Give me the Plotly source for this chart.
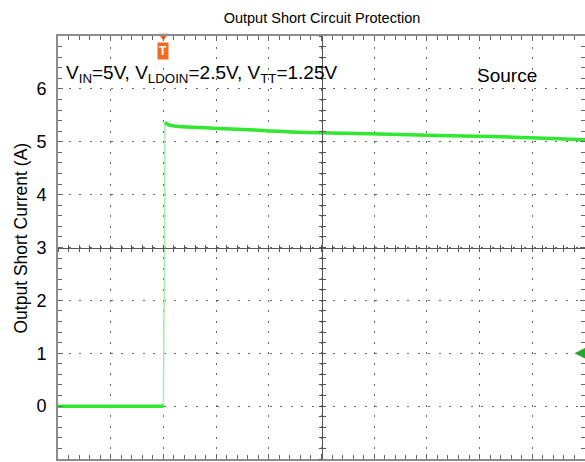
import plotly.graph_objects as go

# time in scope divisions (10 div across the screen), current in A
time_low = [0.0, 0.5, 1.0, 1.5, 2.0]
current_low = [0.0, 0.0, 0.0, 0.0, 0.0]

time_edge = [2.0, 2.0, 2.01, 2.02, 2.03]
current_edge = [0.0, 1.3, 1.7, 2.1, 5.37]

time_high = [2.03, 2.1, 2.3, 2.7, 3.3, 3.95, 4.6, 5.5, 6.3, 7.2, 8.2, 9.1, 10.0]
current_high = [5.37, 5.32, 5.29, 5.27, 5.24, 5.21, 5.18, 5.16, 5.14, 5.12, 5.10, 5.07, 5.04]

trigger_time = 2.0
ref_level = 1.0

y_ticks = [0, 1, 2, 3, 4, 5, 6]
x_grid = [1, 2, 3, 4, 5, 6, 7, 8, 9]

TRACE_GREEN = "#2fe82f"
EDGE_GREEN = "#a6eea6"
GRID = "#666666"
FONT = "Liberation Sans, Arial, sans-serif"

fig = go.Figure()

fig.add_trace(go.Scatter(x=time_edge, y=current_edge, mode="lines",
                         line=dict(color=EDGE_GREEN, width=1.5), showlegend=False))
fig.add_trace(go.Scatter(x=time_low, y=current_low, mode="lines",
                         line=dict(color=TRACE_GREEN, width=3.5), showlegend=False))
fig.add_trace(go.Scatter(x=time_high, y=current_high, mode="lines",
                         line=dict(color=TRACE_GREEN, width=3.5, shape="spline"),
                         showlegend=False))

# trigger marker on the top edge
fig.add_trace(go.Scatter(x=[trigger_time], y=[7], mode="markers", cliponaxis=False,
                         marker=dict(symbol="triangle-down", size=9, color="#f26a21"),
                         showlegend=False))

# dummy traces so the crosshair axes get drawn
fig.add_trace(go.Scatter(x=[None], y=[None], xaxis="x2", yaxis="y2", showlegend=False))
fig.add_trace(go.Scatter(x=[None], y=[None], xaxis="x3", yaxis="y3", showlegend=False))

minor_ticks = dict(dtick=0.2, tick0=0, ticks="inside", ticklen=4, tickcolor=GRID,
                   showgrid=False)


def centre_axis(letter, ticks, line):
    rng = [0, 10] if letter == "x" else [-1, 7]
    return dict(overlaying=letter, anchor="free", position=0.5, range=rng,
                automargin=False, showgrid=False, zeroline=False,
                showticklabels=False, showline=line, linecolor="#555",
                linewidth=1, tickmode="linear", tick0=0, dtick=0.2,
                ticks=ticks, ticklen=3, tickcolor="#555")


fig.update_layout(
    width=585,
    height=462,
    margin=dict(l=58, r=0, t=36, b=3, autoexpand=False),
    paper_bgcolor="white",
    plot_bgcolor="white",
    font=dict(family=FONT, color="black"),
    title=dict(text="Output Short Circuit Protection", x=322 / 585,
               xanchor="center", y=1 - 18 / 462, yanchor="middle", yref="container",
               font=dict(size=14.5, family=FONT, color="black")),
    xaxis=dict(range=[0, 10], tickvals=x_grid, showticklabels=False, automargin=False,
               showgrid=True, gridcolor=GRID, gridwidth=1, griddash="2px,8.54px",
               ticks="inside", ticklen=5, tickcolor=GRID, minor=minor_ticks,
               showline=True, linecolor="#8c8c8c", linewidth=2, mirror="allticks",
               zeroline=False),
    yaxis=dict(range=[-1, 7], tickvals=y_ticks, ticktext=[str(v) for v in y_ticks],
               tickfont=dict(size=18, color="black"), ticklabelstandoff=6,
               automargin=False,
               showgrid=True, gridcolor=GRID, gridwidth=1, griddash="2px,8.58px",
               ticks="inside", ticklen=5, tickcolor=GRID, minor=minor_ticks,
               showline=True, linecolor="#8c8c8c", linewidth=2, mirror="allticks",
               zeroline=False),
    # crosshair through the screen centre, ticks on both sides
    xaxis2=centre_axis("x", "outside", True),
    yaxis2=centre_axis("y", "outside", True),
    xaxis3=centre_axis("x", "inside", False),
    yaxis3=centre_axis("y", "inside", False),
)

fig.add_annotation(
    xref="paper", yref="paper", x=(20 - 58) / 527, y=(459 - 238.5) / 423,
    text="Output Short Current (A)", textangle=-90, showarrow=False,
    xanchor="center", yanchor="middle",
    font=dict(size=17.5, color="black", family=FONT),
)
fig.add_annotation(
    x=0.12, y=6.28, xanchor="left", yanchor="middle", showarrow=False,
    text="V<sub>IN</sub>=5V, V<sub>LDOIN</sub>=2.5V, V<sub>TT</sub>=1.25V",
    font=dict(size=19, color="black", family=FONT),
)
fig.add_annotation(
    x=8.52, y=6.25, xanchor="center", yanchor="middle", showarrow=False,
    text="Source", font=dict(size=19, color="black", family=FONT),
)

# trigger "T" badge
fig.add_annotation(
    x=trigger_time, y=6.72, showarrow=False, text="<b>T</b>",
    font=dict(size=12, color="white", family=FONT),
    bgcolor="#f26a21", borderpad=1,
)

# reference level arrow on the right edge
fig.add_annotation(
    x=9.8, y=ref_level, ax=18, ay=0, text="", showarrow=True,
    arrowhead=2, arrowsize=1.1, arrowwidth=2.5, arrowcolor="#22a822",
)

# drop the browser's default body margin so the figure sits at the page corner
fig.write_html("out.html", config={"displayModeBar": False},
               post_script="document.body.style.margin='0';")
